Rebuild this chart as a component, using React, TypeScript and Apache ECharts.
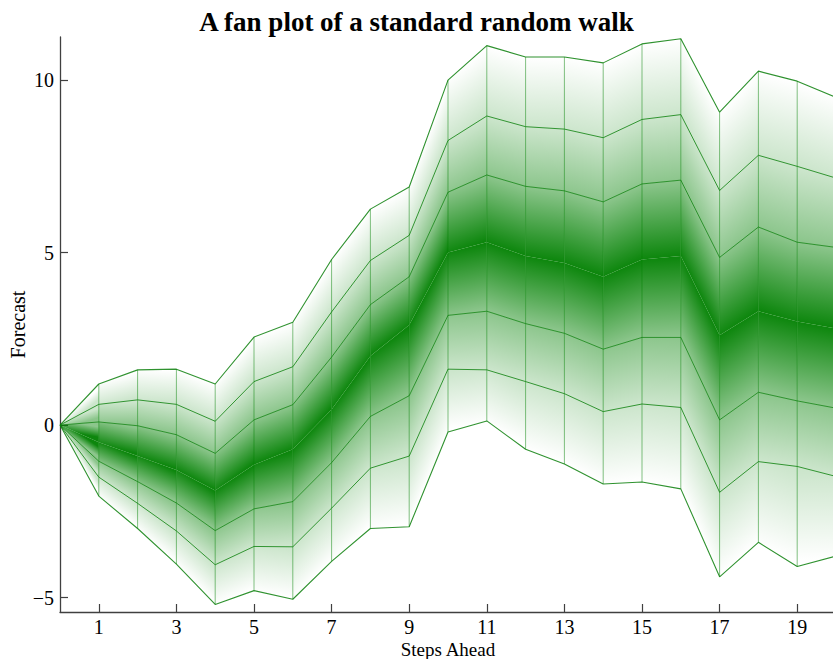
import React, { useEffect, useRef } from "react";
import * as echarts from "echarts";

// Steps ahead
const steps = [0, 1, 2, 3, 4, 5, 6, 7, 8, 9, 10, 11, 12, 13, 14, 15, 16, 17, 18, 19, 20];
// Quantile paths read from the fan (outer fade-out, 90/75/50/25/10 %, lower fade-out)
const hi = [0, 1.19, 1.6, 1.62, 1.19, 2.55, 2.98, 4.8, 6.26, 6.9, 10.0, 11.0, 10.67, 10.67, 10.5, 11.05, 11.2, 9.07, 10.26, 9.97, 9.5];
const q90 = [0, 0.6, 0.73, 0.6, 0.11, 1.26, 1.69, 3.28, 4.77, 5.5, 8.25, 8.96, 8.65, 8.58, 8.33, 8.86, 9.0, 6.8, 7.82, 7.5, 7.16];
const q75 = [0, 0.09, -0.02, -0.28, -0.82, 0.15, 0.59, 1.97, 3.49, 4.3, 6.75, 7.25, 6.92, 6.79, 6.47, 6.99, 7.1, 4.86, 5.74, 5.3, 5.15];
const med = [0, -0.5, -0.9, -1.3, -1.9, -1.15, -0.7, 0.45, 2.0, 2.9, 5.0, 5.3, 4.9, 4.7, 4.3, 4.8, 4.9, 2.6, 3.3, 3.0, 2.8];
const q25 = [0, -1.05, -1.64, -2.26, -3.06, -2.43, -2.22, -1.09, 0.25, 0.85, 3.18, 3.3, 2.94, 2.66, 2.2, 2.54, 2.54, 0.15, 0.95, 0.7, 0.49];
const q10 = [0, -1.51, -2.27, -3.07, -4.05, -3.52, -3.53, -2.41, -1.25, -0.9, 1.62, 1.6, 1.26, 0.91, 0.39, 0.61, 0.51, -1.95, -1.06, -1.2, -1.49];
const lo = [0, -2.06, -3.0, -4.03, -5.2, -4.8, -5.05, -3.95, -3.0, -2.95, -0.2, 0.12, -0.7, -1.13, -1.71, -1.65, -1.85, -4.4, -3.4, -4.1, -3.8];

const xTicks = [1, 3, 5, 7, 9, 11, 13, 15, 17, 19];
const yTicks = [-5, 0, 5, 10];

const FONT = "Liberation Serif";
const GREEN = [0, 128, 0];

const levels = [hi, q90, q75, med, q25, q10, lo];
const alphas = [0, 0.2, 0.45, 0.95, 0.45, 0.2, 0];

function rgba(a: number) {
  return `rgba(${GREEN[0]},${GREEN[1]},${GREEN[2]},${a})`;
}

function renderItem(params: any, api: any) {
  const t = api.value(0);
  const a = t - 1;
  const children: any[] = [];
  for (let k = 0; k < levels.length - 1; k++) {
    const A = levels[k];
    const B = levels[k + 1];
    const pA0 = api.coord([steps[a], A[a]]);
    const pA1 = api.coord([steps[t], A[t]]);
    const pB1 = api.coord([steps[t], B[t]]);
    const pB0 = api.coord([steps[a], B[a]]);
    let dx = pA1[0] - pA0[0] + pB1[0] - pB0[0];
    let dy = pA1[1] - pA0[1] + pB1[1] - pB0[1];
    const len = Math.hypot(dx, dy) || 1;
    dx /= len;
    dy /= len;
    const nx = -dy;
    const ny = dx;
    const mA = [(pA0[0] + pA1[0]) / 2, (pA0[1] + pA1[1]) / 2];
    const mB = [(pB0[0] + pB1[0]) / 2, (pB0[1] + pB1[1]) / 2];
    const sd = (mB[0] - mA[0]) * nx + (mB[1] - mA[1]) * ny;
    let fill: any;
    if (Math.abs(sd) < 0.5) {
      fill = rgba((alphas[k] + alphas[k + 1]) / 2);
    } else {
      fill = new echarts.graphic.LinearGradient(
        mA[0],
        mA[1],
        mA[0] + nx * sd,
        mA[1] + ny * sd,
        [
          { offset: 0, color: rgba(alphas[k]) },
          { offset: 1, color: rgba(alphas[k + 1]) },
        ],
        true
      );
    }
    children.push({
      type: "polygon",
      shape: { points: [pA0, pA1, pB1, pB0] },
      style: { fill },
      silent: true,
    });
  }
  const top = api.coord([steps[t], hi[t]]);
  const bot = api.coord([steps[t], lo[t]]);
  children.push({
    type: "line",
    shape: { x1: top[0], y1: top[1], x2: bot[0], y2: bot[1] },
    style: { stroke: "rgba(0,128,0,0.55)", lineWidth: 0.9 },
    silent: true,
  });
  return { type: "group", children };
}

const lineDefs = [
  { name: "hi", arr: hi, w: 1.1, o: 0.85 },
  { name: "q90", arr: q90, w: 1, o: 0.8 },
  { name: "q75", arr: q75, w: 1, o: 0.75 },
  { name: "q25", arr: q25, w: 1, o: 0.75 },
  { name: "q10", arr: q10, w: 1, o: 0.8 },
  { name: "lo", arr: lo, w: 1.1, o: 0.85 },
];

export default function App() {
  const ref = useRef<HTMLDivElement>(null);
  useEffect(() => {
    if (!ref.current) return;
    const chart = echarts.init(ref.current, undefined, { renderer: "svg" });
    const axisColor = "#404040";
    chart.setOption({
      animation: false,
      backgroundColor: "#ffffff",
      title: {
        text: "A fan plot of a standard random walk",
        left: "center",
        top: 3,
        textStyle: { fontFamily: FONT, fontWeight: "bold", fontSize: 27, color: "#000" },
      },
      grid: { left: 60, right: -3, top: 37, bottom: 47, containLabel: false, outerBoundsMode: "none" },
      xAxis: {
        type: "value",
        min: 0,
        max: 20,
        name: "Steps Ahead",
        nameLocation: "middle",
        nameGap: 29,
        nameMoveOverlap: false,
        nameTextStyle: { fontFamily: FONT, fontSize: 19, lineHeight: 16, color: "#000" },
        axisLine: { onZero: false, lineStyle: { color: axisColor, width: 1.3 } },
        axisTick: { inside: true, length: 8, customValues: xTicks, lineStyle: { color: axisColor, width: 1.2 } },
        axisLabel: { customValues: xTicks, fontFamily: FONT, fontSize: 20, lineHeight: 16, color: "#000", margin: 7 },
        splitLine: { show: false },
      },
      yAxis: {
        type: "value",
        min: -5.42,
        max: 11.25,
        name: "Forecast",
        nameLocation: "middle",
        nameGap: 32,
        nameMoveOverlap: false,
        nameTextStyle: { fontFamily: FONT, fontSize: 20, color: "#000" },
        axisLine: { show: true, onZero: false, lineStyle: { color: axisColor, width: 1.3 } },
        axisTick: { show: true, inside: true, length: 8, customValues: yTicks, lineStyle: { color: axisColor, width: 1.2 } },
        axisLabel: {
          customValues: yTicks,
          fontFamily: FONT,
          fontSize: 20,
          color: "#000",
          margin: 6,
          formatter: (v: number) => String(v).replace("-", "\u2212"),
        },
        splitLine: { show: false },
      },
      series: [
        {
          type: "custom",
          renderItem,
          data: steps.slice(1).map((s, i) => [s, med[i + 1]]),
          encode: { x: 0, y: 1 },
          silent: true,
          z: 2,
        },
        ...lineDefs.map((d) => ({
          type: "line",
          name: d.name,
          data: steps.map((s, i) => [s, d.arr[i]]),
          symbol: "none",
          silent: true,
          z: 3,
          lineStyle: { color: "#0a7f0a", width: d.w, opacity: d.o },
        })),
      ],
    });
    return () => chart.dispose();
  }, []);
  return (
    <div
      ref={ref}
      style={{ position: "fixed", left: 0, top: 0, width: 833, height: 659, background: "#fff" }}
    />
  );
}
